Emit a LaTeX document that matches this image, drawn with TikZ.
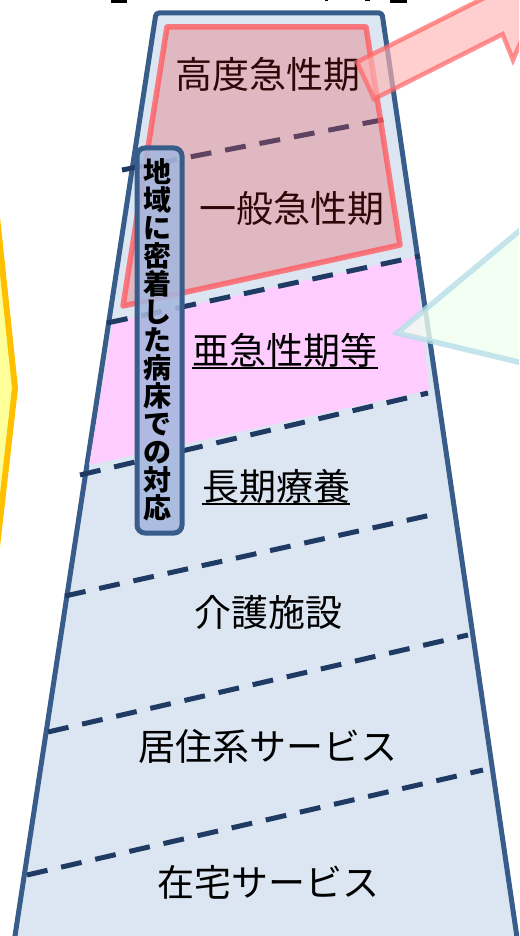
\documentclass[tikz,border=0pt]{standalone}
\usepackage{fontspec}
\newfontfamily\jp{Noto Sans CJK JP}
\definecolor{trapf}{HTML}{DCE6F2}
\definecolor{trapb}{HTML}{385D8A}
\definecolor{pinkf}{HTML}{FFCCFF}
\definecolor{dashc}{HTML}{1F3B63}
\definecolor{redf}{HTML}{E95A5F}
\definecolor{redb}{HTML}{FF5A5F}
\definecolor{vboxf}{HTML}{A4B7DE}
\definecolor{yelf}{HTML}{FFFF99}
\definecolor{yelb}{HTML}{FFC000}
\definecolor{arrf}{HTML}{FFB4B4}
\definecolor{arrb}{HTML}{FF6464}
\definecolor{calf}{HTML}{F0FFF0}
\definecolor{calb}{HTML}{B7DEE8}
\definecolor{darkred}{HTML}{2E0808}
\begin{document}
\begin{tikzpicture}[x=1pt,y=-1pt,
  lbl/.style={font=\jp\fontsize{37}{40}\selectfont, inner sep=0pt, text=black},
  dline/.style={draw=dashc, line width=5pt, dash pattern=on 21pt off 14pt},
  uline/.style={line width=2pt, black},
]
\clip (0,0) rectangle (519,936);
% yellow shape at left
\draw[draw=yelb, fill=yelf, line width=6pt, line join=round]
  (-40,200) -- (-4.8,200) -- (15,388) -- (-4.5,560) -- (-40,560) -- cycle;
% main trapezoid
\draw[fill=trapf, draw=trapb, line width=5pt, rounded corners=3pt]
  (156,13) -- (382,13) -- (520.3,960) -- (11.3,960) -- cycle;
% pink band
\fill[pinkf] (113,322) -- (415,257) -- (429,390) -- (89,465) -- cycle;
% dashed separators
\coordinate (d1a) at (122,170); \coordinate (d1b) at (392,118);
\coordinate (d2a) at (107,323); \coordinate (d2b) at (420,256);
\coordinate (d3a) at (80,475);  \coordinate (d3b) at (428,393);
\coordinate (d4a) at (65,596);  \coordinate (d4b) at (440,513);
\coordinate (d5a) at (48,732);  \coordinate (d5b) at (468,635);
\coordinate (d6a) at (27,875);  \coordinate (d6b) at (483,770);
\draw[dline] (d1a) -- (d1b);
\draw[dline] (d2a) -- (d2b);
\draw[dline] (d3a) -- (d3b);
\draw[dline] (d4a) -- (d4b);
\draw[dline] (d5a) -- (d5b);
\draw[dline] (d6a) -- (d6b);
% labels
\node[lbl] (t3) at (285,350) {亜急性期等};
\node[lbl] (t4) at (276,486) {長期療養};
\node[lbl] (t5) at (268,612) {介護施設};
\node[lbl] (t6) at (268,746) {居住系サービス};
\node[lbl] (t7) at (268,882) {在宅サービス};
\draw[uline] ([yshift=-1pt]t3.south west) -- ([yshift=-1pt]t3.south east);
\draw[uline] ([yshift=-1pt]t4.south west) -- ([yshift=-1pt]t4.south east);
% red acute box
\draw[fill=redf, fill opacity=0.32, draw=redb, draw opacity=0.78, line width=5.5pt, line join=round]
  (167,27) -- (366,27) -- (400,245) -- (123,306) -- cycle;
\node[lbl, text=darkred] (t1) at (268,74) {高度急性期};
\node[lbl, text=darkred] (t2) at (292,208) {一般急性期};
% vertical label box
\node[draw=trapb, line width=5pt, fill=vboxf, fill opacity=0.88, rounded corners=8pt,
  minimum width=45pt, minimum height=385pt, inner sep=0pt] (vb) at (159.5,340.5) {};
\node[font=\jp\bfseries\fontsize{28}{28}\selectfont, align=center, inner sep=0pt, text=black]
  (vt) at (157,340) {地\\域\\に\\密\\着\\し\\た\\病\\床\\で\\の\\対\\応};
% red block arrow (top right)
\draw[fill=arrf, fill opacity=0.65, draw=arrb, draw opacity=0.7, line width=4.5pt, line join=miter]
  (357,62) -- (485.6,-2.8) -- (473,-27.8) -- (542.5,-8.9) -- (513,60) -- (502.6,34.2) -- (374,99) -- cycle;
% callout triangle (right)
\draw[fill=calf, draw=calb, line width=5.5pt, opacity=0.8, line join=miter]
  (397,333) -- (560,197) -- (560,372) -- cycle;
% clipped fragments of the heading above
\fill[black] (111,0) rectangle (127,3);
\fill[black] (390,0) rectangle (407,3);
\fill[black] (325,0) rectangle (328,1.5);
\fill[black] (365,0) rectangle (370,1.5);
\end{tikzpicture}
\end{document}
